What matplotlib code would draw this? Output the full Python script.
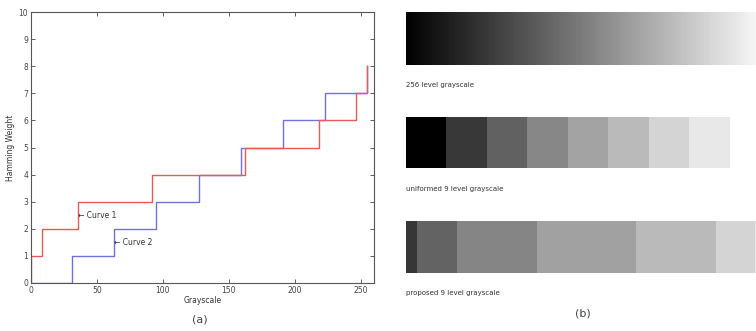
import numpy as np
import matplotlib
matplotlib.use("Agg")
import matplotlib.pyplot as plt

# curve 1: proposed thresholds (grayscale value where hamming weight steps up)
curve1_x = [0, 0, 8, 36, 92, 162, 218, 246, 255]
curve1_y = [0, 1, 2, 3, 4, 5, 6, 7, 8]
# curve 2: uniform thresholds
curve2_x = [0, 31, 63, 95, 127, 159, 191, 223, 255]
curve2_y = [0, 1, 2, 3, 4, 5, 6, 7, 8]

xticks = [0, 50, 100, 150, 200, 250]
yticks = [0, 1, 2, 3, 4, 5, 6, 7, 8, 9, 10]

# bars on the right, in grayscale units
levels_256 = np.arange(256)
uniform_edges = [0, 28, 57, 85, 114, 142, 171, 199, 228, 256]
uniform_gray = [0.0, 0.22, 0.38, 0.53, 0.64, 0.73, 0.83, 0.91, 1.0]
proposed_edges = [0, 8, 36, 92, 162, 218, 246, 255, 256]
proposed_gray = [0.21, 0.39, 0.52, 0.63, 0.73, 0.83, 0.91, 1.0]

bar_labels = ["256 level grayscale", "uniformed 9 level grayscale",
              "proposed 9 level grayscale"]

W, H = 756, 331
fig = plt.figure(figsize=(W / 100, H / 100), dpi=100)

def box(x0, y0, x1, y1):
    # pixel box (top-left origin) -> figure fraction rect
    return [x0 / W, 1 - y1 / H, (x1 - x0) / W, (y1 - y0) / H]

# ---- (a) ----
ax = fig.add_axes(box(31, 12, 374, 283))
ax.step(curve2_x, curve2_y, where="post", color="#7070e0", lw=1.0)
ax.step(curve1_x, curve1_y, where="post", color="#e85a5a", lw=1.0)
ax.set_xlim(0, 260)
ax.set_ylim(0, 10)
ax.set_xticks(xticks)
ax.set_yticks(yticks)
ax.tick_params(direction="in", length=3, width=0.6, top=True, right=True,
               labelsize=5.5, colors="#444444", pad=2)
for s in ax.spines.values():
    s.set_color("#555555")
    s.set_linewidth(0.8)
ax.set_xlabel("Grayscale", fontsize=5.5, color="#333333", labelpad=1)
ax.set_ylabel("Hamming Weight", fontsize=5.5, color="#333333")
ax.yaxis.set_label_coords(-0.047, 0.5)
ax.text(36, 2.5, "\u2190 Curve 1", fontsize=5.5, va="center", ha="left", color="#333333")
ax.text(63, 1.5, "\u2190 Curve 2", fontsize=5.5, va="center", ha="left", color="#333333")
fig.text(200 / W, 1 - 320 / H, "(a)", fontsize=8, ha="center", va="center", color="#444444")

# ---- (b) ----
xmax = 246.4
ax1 = fig.add_axes(box(406, 12, 756, 65))
ax1.imshow(levels_256[None, :], cmap="gray", vmin=0, vmax=255, aspect="auto",
           extent=(0, 256, 0, 1), interpolation="nearest")
ax1.set_xlim(0, xmax)
ax1.set_ylim(0, 1)
ax1.axis("off")

ax2 = fig.add_axes(box(406, 117, 756, 168))
ax2.bar(uniform_edges[:-1], 1, width=np.diff(uniform_edges),
        align="edge", color=[str(g) for g in uniform_gray])
ax2.set_xlim(0, xmax)
ax2.set_ylim(0, 1)
ax2.axis("off")

ax3 = fig.add_axes(box(406, 221, 756, 273))
ax3.bar(proposed_edges[:-1], 1, width=np.diff(proposed_edges),
        align="edge", color=[str(g) for g in proposed_gray])
ax3.set_xlim(0, xmax)
ax3.set_ylim(0, 1)
ax3.axis("off")

for lab, y in zip(bar_labels, [85, 189, 293]):
    fig.text(406 / W, 1 - y / H, lab, fontsize=5, ha="left", va="center", color="#333333")
fig.text(583 / W, 1 - 313 / H, "(b)", fontsize=8, ha="center", va="center", color="#444444")

fig.savefig("out.png", dpi=100)
